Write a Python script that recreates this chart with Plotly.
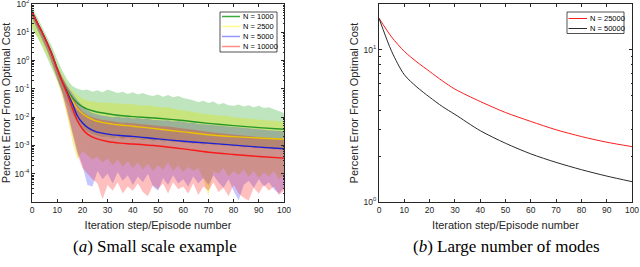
import plotly.graph_objects as go

# ---------------- data (log10 of percent error) ----------------
X_MEAN = [0, 2, 4, 6, 8, 10, 12, 14, 16, 18, 20, 22, 25, 30, 35, 40, 50, 60, 70, 80, 90, 100]
GREEN_MEAN = [1.72, 1.35, 1.0, 0.62, 0.2, -0.3, -0.72, -1.05, -1.3, -1.5, -1.63, -1.72, -1.8, -1.88, -1.94, -1.98, -2.04, -2.12, -2.22, -2.3, -2.37, -2.43]
YELLOW_MEAN = [1.72, 1.35, 1.0, 0.62, 0.2, -0.3, -0.73, -1.1, -1.42, -1.7, -1.87, -1.99, -2.12, -2.22, -2.28, -2.32, -2.42, -2.52, -2.62, -2.69, -2.74, -2.78]
BLUE_MEAN = [1.72, 1.35, 1.0, 0.62, 0.2, -0.3, -0.74, -1.12, -1.52, -1.95, -2.2, -2.36, -2.5, -2.6, -2.65, -2.68, -2.77, -2.85, -2.92, -2.99, -3.06, -3.12]
RED_MEAN = [1.72, 1.35, 1.0, 0.62, 0.2, -0.3, -0.75, -1.18, -1.68, -2.12, -2.42, -2.6, -2.74, -2.86, -2.92, -2.95, -3.02, -3.12, -3.24, -3.32, -3.39, -3.45]

X_BAND = [0, 2, 4, 6, 8, 10, 12, 14, 16, 18, 20, 22, 24, 26, 28, 30, 32, 34, 36, 38, 40, 42, 44, 46, 48, 50,
          52, 54, 56, 58, 60, 62, 64, 66, 68, 70, 72, 74, 76, 78, 80, 82, 84, 86, 88, 90, 92, 94, 96, 98, 100]
GREEN_UP = [1.9, 1.55, 1.22, 0.88, 0.48, 0.05, -0.35, -0.68, -0.9, -1.0, -1.05, -1.02, -1.1, -1.05, -1.12, -1.02, -1.08, -1.15, -1.1, -1.18, -1.12, -1.2, -1.15, -1.22, -1.25, -1.2,
            -1.28, -1.22, -1.3, -1.25, -1.32, -1.35, -1.4, -1.47, -1.42, -1.5, -1.45, -1.55, -1.5, -1.58, -1.6, -1.55, -1.62, -1.58, -1.65, -1.6, -1.68, -1.65, -1.72, -1.8, -1.85]
GREEN_LO = [1.1, 0.85, 0.5, 0.15, -0.25, -0.7, -1.1, -1.5, -1.9, -2.2, -2.4, -2.5, -2.6, -2.65, -2.7, -2.68, -2.75, -2.7, -2.78, -2.72, -2.8, -2.75, -2.82, -2.78, -2.85, -2.8,
            -2.88, -2.82, -2.9, -2.85, -2.92, -2.88, -2.95, -2.9, -2.98, -2.93, -3.0, -2.95, -3.02, -2.98, -3.05, -3.0, -3.08, -3.02, -3.1, -3.05, -3.12, -3.08, -3.15, -3.1, -3.15]
YELLOW_UP = [1.8, 1.45, 1.1, 0.75, 0.35, -0.12, -0.5, -0.82, -1.05, -1.22, -1.35, -1.42, -1.45, -1.48, -1.5, -1.47, -1.52, -1.5, -1.55, -1.53, -1.56, -1.58, -1.6, -1.58, -1.62, -1.64,
             -1.66, -1.65, -1.7, -1.72, -1.75, -1.78, -1.82, -1.86, -1.88, -1.9, -1.92, -1.95, -1.94, -1.98, -2.0, -2.02, -2.04, -2.05, -2.08, -2.08, -2.1, -2.12, -2.13, -2.15, -2.16]
YELLOW_LO = [1.2, 0.9, 0.55, 0.2, -0.22, -0.75, -1.3, -2.0, -2.85, -3.5, -3.2, -3.35, -3.5, -3.4, -3.6, -3.45, -3.7, -3.5, -3.75, -3.55, -3.8, -3.6, -3.85, -3.65, -3.9, -3.7,
             -3.85, -3.6, -3.9, -3.7, -3.95, -3.75, -3.9, -3.8, -4.2, -4.8, -3.9, -4.0, -3.8, -4.1, -3.9, -4.05, -3.85, -4.1, -3.9, -4.15, -3.95, -4.1, -3.9, -4.2, -4.0]
BLUE_UP = [1.78, 1.42, 1.07, 0.7, 0.3, -0.18, -0.58, -0.9, -1.15, -1.4, -1.6, -1.75, -1.85, -1.9, -1.95, -1.97, -2.0, -1.98, -2.02, -2.0, -2.05, -2.03, -2.07, -2.05, -2.1, -2.1,
           -2.12, -2.11, -2.15, -2.14, -2.18, -2.2, -2.2, -2.24, -2.25, -2.27, -2.28, -2.3, -2.31, -2.33, -2.35, -2.36, -2.38, -2.4, -2.4, -2.43, -2.44, -2.46, -2.47, -2.48, -2.5]
BLUE_LO = [1.5, 1.12, 0.75, 0.35, -0.12, -0.62, -1.15, -1.75, -2.5, -3.2, -3.7, -4.4, -4.45, -3.9, -4.2, -4.0, -4.35, -3.95, -4.25, -4.05, -4.4, -4.1, -4.3, -4.0, -4.45, -4.6,
           -4.15, -4.4, -4.05, -4.35, -4.2, -4.45, -4.1, -4.35, -4.15, -4.4, -4.05, -4.3, -4.5, -4.2, -4.6, -4.95, -4.4, -4.25, -4.5, -4.2, -4.45, -4.3, -4.55, -4.7, -4.5]
RED_UP = [1.78, 1.42, 1.07, 0.7, 0.28, -0.2, -0.6, -0.95, -1.3, -1.6, -1.8, -1.92, -2.0, -2.05, -2.1, -2.12, -2.15, -2.17, -2.2, -2.2, -2.22, -2.24, -2.25, -2.27, -2.29, -2.3,
          -2.32, -2.33, -2.36, -2.38, -2.4, -2.42, -2.45, -2.47, -2.5, -2.52, -2.54, -2.56, -2.58, -2.6, -2.62, -2.63, -2.65, -2.66, -2.68, -2.7, -2.71, -2.72, -2.74, -2.75, -2.77]
RED_LO = [1.55, 1.15, 0.78, 0.38, -0.1, -0.6, -1.15, -1.8, -2.6, -3.3, -3.8, -4.0, -4.2, -4.35, -4.9, -4.4, -4.6, -4.3, -4.7, -4.45, -4.6, -4.35, -4.65, -4.8, -4.4, -4.55,
          -4.35, -4.7, -4.3, -4.55, -4.45, -4.7, -4.35, -4.75, -4.45, -4.6, -4.3, -4.65, -4.5, -4.8, -4.4, -4.7, -4.85, -4.95, -4.5, -4.7, -4.4, -4.6, -4.45, -4.75, -4.6]

LEFT_NAMES = ["N = 1000", "N = 2500", "N = 5000", "N = 10000"]

# right panel (percent error)
X_RIGHT = [0, 5, 10, 15, 20, 25, 30, 40, 50, 60, 70, 80, 90, 100]
N25000 = [16.1, 12.1, 9.75, 8.3, 7.2, 6.25, 5.51, 4.57, 3.87, 3.38, 2.98, 2.69, 2.47, 2.31]
N50000 = [16.1, 9.75, 6.85, 5.68, 4.88, 4.24, 3.76, 2.94, 2.43, 2.07, 1.82, 1.63, 1.48, 1.36]
RIGHT_NAMES = ["N = 25000", "N = 50000"]

X_TICKS = [0, 10, 20, 30, 40, 50, 60, 70, 80, 90, 100]
LEFT_Y_EXP = [-4, -3, -2, -1, 0, 1, 2]
RIGHT_Y_EXP = [0, 1]

# ---------------- styling ----------------
FONT = "Liberation Sans, Arial, sans-serif"
SERIF = "Liberation Serif, Times New Roman, serif"
AX = "#262626"
line_cols = ["rgb(40,150,40)", "rgb(235,195,0)", "rgb(30,30,215)", "rgb(250,25,25)"]
fill_cols = ["rgba(0,150,0,0.25)", "rgba(215,230,0,0.35)", "rgba(0,0,255,0.22)", "rgba(255,0,0,0.25)"]
legend_cols = ["rgb(60,170,60)", "rgb(255,250,140)", "rgb(150,150,255)", "rgb(255,140,140)"]
right_cols = ["rgb(250,30,30)", "#2b2b2b"]

W, H = 640, 267
def px(x):
    return x / W
def py(y):
    return 1 - y / H

fig = go.Figure()

ups = [GREEN_UP, YELLOW_UP, BLUE_UP, RED_UP]
los = [GREEN_LO, YELLOW_LO, BLUE_LO, RED_LO]
means = [GREEN_MEAN, YELLOW_MEAN, BLUE_MEAN, RED_MEAN]

for up, lo, fc in zip(ups, los, fill_cols):
    fig.add_trace(go.Scatter(
        x=X_BAND + X_BAND[::-1],
        y=[10 ** v for v in up] + [10 ** v for v in lo[::-1]],
        fill="toself", fillcolor=fc, line=dict(width=0), mode="lines",
        showlegend=False, hoverinfo="skip", xaxis="x", yaxis="y"))

for m, lc, nm in zip(means, line_cols, LEFT_NAMES):
    fig.add_trace(go.Scatter(
        x=X_MEAN, y=[10 ** v for v in m], mode="lines", name=nm, showlegend=False,
        line=dict(color=lc, width=1.4, shape="spline", smoothing=0.8),
        xaxis="x", yaxis="y"))

for ys, lc, nm in zip([N25000, N50000], right_cols, RIGHT_NAMES):
    fig.add_trace(go.Scatter(
        x=X_RIGHT, y=ys, mode="lines", name=nm, showlegend=False,
        line=dict(color=lc, width=1, shape="spline", smoothing=0.8),
        xaxis="x2", yaxis="y2"))

# ---- compact MATLAB-like legends (box + sample lines + real text) ----
shapes = []
annotations = []

def add_legend(x0, x1, y0, y1, names, cols, row0, dy, lx0, lx1, tx, lw):
    shapes.append(dict(type="rect", xref="paper", yref="paper", x0=px(x0), x1=px(x1), y0=py(y1), y1=py(y0),
                       line=dict(color=AX, width=0.8), fillcolor="white", layer="above"))
    for i, (nm, c) in enumerate(zip(names, cols)):
        yy = row0 + i * dy
        shapes.append(dict(type="line", xref="paper", yref="paper", x0=px(lx0), x1=px(lx1), y0=py(yy), y1=py(yy),
                           line=dict(color=c, width=lw), layer="above"))
        annotations.append(dict(text=nm, x=px(tx), y=py(yy), xref="paper", yref="paper", xanchor="left",
                                yanchor="middle", showarrow=False,
                                font=dict(size=7.5, color="black", family=FONT)))

add_legend(220, 277, 12, 52, LEFT_NAMES, legend_cols, 16.5, 10, 222, 240, 240.5, 1.5)
add_legend(567, 624, 12, 33.5, RIGHT_NAMES, right_cols, 18.5, 10, 568.5, 587, 587.5, 1)

annotations += [
    dict(text="(<i>a</i>) Small scale example", x=px(155), y=py(246), xref="paper", yref="paper",
         xanchor="center", yanchor="middle",
         showarrow=False, font=dict(family=SERIF, size=17, color="black")),
    dict(text="(<i>b</i>) Large number of modes", x=px(506), y=py(246), xref="paper", yref="paper",
         xanchor="center", yanchor="middle",
         showarrow=False, font=dict(family=SERIF, size=17, color="black")),
]

common_x = dict(range=[0, 100], tickvals=X_TICKS, ticks="inside", ticklen=3, tickcolor=AX,
                showline=True, linecolor=AX, linewidth=1, mirror="ticks", showgrid=False,
                zeroline=False, tickfont=dict(size=8.5, color=AX, family=FONT), ticklabeloverflow="allow",
                title=dict(text="Iteration step/Episode number", font=dict(size=11, color=AX, family=FONT), standoff=7),
                automargin=False)
common_y = dict(type="log", ticks="inside", ticklen=3, tickcolor=AX, showline=True, linecolor=AX,
                linewidth=1, mirror="ticks", showgrid=False, zeroline=False,
                tickfont=dict(size=8.5, color=AX, family=FONT), ticklabeloverflow="allow",
                minor=dict(ticks="inside", ticklen=1.5, tickcolor=AX, dtick="D1", showgrid=False),
                title=dict(text="Percent Error From Optimal Cost", font=dict(size=11, color=AX, family=FONT), standoff=2),
                automargin=False)

fig.update_layout(
    width=W, height=H, margin=dict(l=0, r=0, t=0, b=0),
    paper_bgcolor="white", plot_bgcolor="white",
    font=dict(family=FONT, color=AX), showlegend=False,
    xaxis=dict(common_x, domain=[px(32), px(284)], anchor="y"),
    yaxis=dict(common_y, domain=[py(202), py(4)], anchor="x", range=[-5, 2],
               tickvals=[10 ** e for e in LEFT_Y_EXP],
               ticktext=["10<sup>%s</sup>" % e for e in LEFT_Y_EXP]),
    xaxis2=dict(common_x, domain=[px(379), px(632)], anchor="y2"),
    yaxis2=dict(common_y, domain=[py(202), py(4)], anchor="x2", range=[0, 1.3],
                tickvals=[10 ** e for e in RIGHT_Y_EXP],
                ticktext=["10<sup>%s</sup>" % e for e in RIGHT_Y_EXP]),
    shapes=shapes,
    annotations=annotations,
)

fig.write_html("out.html", config={"displayModeBar": False},
               post_script="document.body.style.margin='0';document.body.style.overflow='hidden';")
